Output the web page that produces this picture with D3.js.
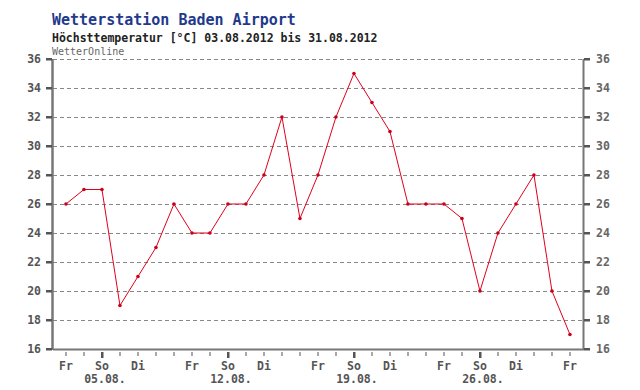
<!DOCTYPE html>
<html>
<head>
<meta charset="utf-8">
<script src="https://cdn.jsdelivr.net/npm/d3@7"></script>
<style>
  body { margin: 0; background: #fff; }
  text { font-family: "DejaVu Sans Mono", monospace; }
</style>
</head>
<body>
<svg id="chart" width="640" height="390"></svg>
<script>
// days of August 2012
const days = [3, 4, 5, 6, 7, 8, 9, 10, 11, 12, 13, 14, 15, 16, 17, 18, 19, 20, 21, 22, 23, 24, 25, 26, 27, 28, 29, 30, 31];
const maxTemp = [26, 27, 27, 19, 21, 23, 26, 24, 24, 26, 26, 28, 32, 25, 28, 32, 35, 33, 31, 26, 26, 26, 25, 20, 24, 26, 28, 20, 17];
const yTicks = [16, 18, 20, 22, 24, 26, 28, 30, 32, 34, 36];
const weekdayLabels = [
  { day: 3, text: "Fr" }, { day: 5, text: "So" }, { day: 7, text: "Di" },
  { day: 10, text: "Fr" }, { day: 12, text: "So" }, { day: 14, text: "Di" },
  { day: 17, text: "Fr" }, { day: 19, text: "So" }, { day: 21, text: "Di" },
  { day: 24, text: "Fr" }, { day: 26, text: "So" }, { day: 28, text: "Di" },
  { day: 31, text: "Fr" }
];
const dateLabels = [
  { day: 5, text: "05.08." }, { day: 12, text: "12.08." },
  { day: 19, text: "19.08." }, { day: 26, text: "26.08." }
];

const margin = { left: 53, right: 584, top: 59, bottom: 349 };
const svg = d3.select("#chart");

const x = d3.scaleLinear().domain([2.28, 31.78]).range([margin.left, margin.right]);
const y = d3.scaleLinear().domain([16, 36]).range([margin.bottom, margin.top]);

// titles
svg.append("text").attr("x", 52).attr("y", 25)
  .attr("fill", "#1f3a8c").attr("font-size", 15).attr("font-weight", "bold")
  .text("Wetterstation Baden Airport");
svg.append("text").attr("x", 52).attr("y", 42)
  .attr("fill", "#222").attr("font-size", 11.5).attr("font-weight", "bold")
  .text("Höchsttemperatur [°C] 03.08.2012 bis 31.08.2012");
svg.append("text").attr("x", 52).attr("y", 55)
  .attr("fill", "#666").attr("font-size", 10)
  .text("WetterOnline");

// grid
svg.append("g").selectAll("line").data(yTicks).join("line")
  .attr("x1", margin.left).attr("x2", margin.right)
  .attr("y1", d => y(d) + 0.5).attr("y2", d => y(d) + 0.5)
  .attr("stroke", "#888").attr("stroke-dasharray", "4,3");

// frame
const frame = svg.append("g").attr("stroke", "#777").attr("fill", "none");
frame.append("line").attr("x1", margin.left - 0.5).attr("x2", margin.left - 0.5)
  .attr("y1", margin.top).attr("y2", margin.bottom + 1).attr("stroke-width", 2.5);
frame.append("line").attr("x1", margin.right - 0.5).attr("x2", margin.right - 0.5)
  .attr("y1", margin.top).attr("y2", margin.bottom + 1).attr("stroke-width", 2);
frame.append("line").attr("x1", margin.left).attr("x2", margin.right)
  .attr("y1", margin.bottom + 0.5).attr("y2", margin.bottom + 0.5).attr("stroke-width", 2);

// y axes (left and right)
const axisColor = "#555";
yTicks.forEach(t => {
  svg.append("rect").attr("x", margin.left - 7).attr("y", y(t) - 1)
    .attr("width", 6).attr("height", 2.5).attr("fill", axisColor);
  svg.append("rect").attr("x", margin.right).attr("y", y(t) - 1)
    .attr("width", 6).attr("height", 2.5).attr("fill", axisColor);
  svg.append("text").attr("x", 41).attr("y", y(t) + 4)
    .attr("text-anchor", "end").attr("font-size", 11.5).attr("font-weight", "bold")
    .attr("fill", axisColor).text(t);
  svg.append("text").attr("x", 596).attr("y", y(t) + 4)
    .attr("font-size", 11.5).attr("font-weight", "bold")
    .attr("fill", "#666").text(t);
});

// x ticks for each day, thicker on Sundays
const xt = svg.append("g");
d3.range(3, 32).forEach(d => {
  const sunday = dateLabels.some(l => l.day === d);
  xt.append("rect")
    .attr("x", Math.round(x(d)) - (sunday ? 1 : 0.5))
    .attr("y", margin.bottom + 3)
    .attr("width", sunday ? 2.5 : 1)
    .attr("height", sunday ? 6 : 4)
    .attr("fill", axisColor);
});
xt.selectAll("text.wd").data(weekdayLabels).join("text")
  .attr("class", "wd").attr("x", d => x(d.day)).attr("y", 370)
  .attr("text-anchor", "middle").attr("font-size", 11.5).attr("font-weight", "bold")
  .attr("fill", axisColor).text(d => d.text);
xt.selectAll("text.dt").data(dateLabels).join("text")
  .attr("class", "dt").attr("x", d => x(d.day) + 3).attr("y", 383)
  .attr("text-anchor", "middle").attr("font-size", 11.5).attr("font-weight", "bold")
  .attr("fill", axisColor).text(d => d.text);

// the temperature line
const pts = days.map((d, i) => [d, maxTemp[i]]);
const line = d3.line().x(d => x(d[0])).y(d => y(d[1]));
svg.append("path").datum(pts).attr("d", line)
  .attr("fill", "none").attr("stroke", "#e0001b").attr("stroke-width", 1);
svg.append("g").selectAll("circle").data(pts).join("circle")
  .attr("cx", d => x(d[0])).attr("cy", d => y(d[1])).attr("r", 1.8)
  .attr("fill", "#c8001a");
</script>
</body>
</html>
